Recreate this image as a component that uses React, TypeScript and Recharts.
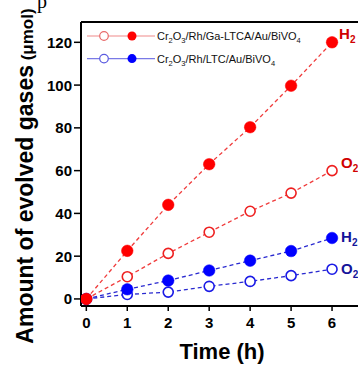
import React from "react";
import { LineChart, Line, XAxis, YAxis, ReferenceLine } from "recharts";

const times = [0, 1, 2, 3, 4, 5, 6];
const h2Ga = [0, 22.5, 44, 63, 80.3, 99.7, 120];
const o2Ga = [0, 10.4, 21.3, 31.2, 41, 49.5, 60];
const h2Ltc = [0, 4.5, 8.6, 13.3, 17.9, 22.4, 28.5];
const o2Ltc = [0, 2.1, 3.2, 5.9, 8.2, 10.9, 13.9];
const xTicks = [0, 1, 2, 3, 4, 5, 6];
const yTicks = [0, 10, 20, 30, 40, 50, 60, 70, 80, 90, 100, 110, 120];
const legendNames = ["Ga", "LTC"];

const data = times.map((t, i) => ({
  t,
  h2Ga: h2Ga[i],
  o2Ga: o2Ga[i],
  h2Ltc: h2Ltc[i],
  o2Ltc: o2Ltc[i],
}));

const FONT = "'Liberation Sans', Arial, sans-serif";

const YTick = (props: any) => {
  const { x, y, payload } = props;
  const major = payload.value % 20 === 0;
  return (
    <g>
      <line x1={x} x2={x - (major ? 7 : 4)} y1={y} y2={y} stroke="#000" strokeWidth={1.5} />
      {major && (
        <text x={x - 9} y={y + 5.5} textAnchor="end" fontFamily={FONT} fontWeight="bold" fontSize={15} fill="#000">
          {payload.value}
        </text>
      )}
    </g>
  );
};

const XTick = (props: any) => {
  const { x, y, payload } = props;
  return (
    <g>
      <line x1={x} x2={x} y1={y} y2={y + 5} stroke="#000" strokeWidth={1.5} />
      <text x={x} y={y + 22} textAnchor="middle" fontFamily={FONT} fontWeight="bold" fontSize={15} fill="#000">
        {payload.value}
      </text>
    </g>
  );
};

const makeLabel = (gas: string, color: string, dx: number, dy: number) => (p: any) => {
  if (p.index !== 6) return <g key={`l${p.index}`} />;
  return (
    <text key="end" x={p.x + dx} y={p.y + dy} fontFamily={FONT} fontWeight="bold" fontSize={15} fill={color}>
      {gas}
      <tspan fontSize={10} dy={4}>2</tspan>
    </text>
  );
};

const filledDot = (color: string) => (p: any) => (
  <circle key={`f${p.index}`} cx={p.cx} cy={p.cy} r={5.8} fill={color} stroke={color} strokeWidth={0.5} />
);
const openDot = (color: string) => (p: any) => (
  <circle key={`o${p.index}`} cx={p.cx} cy={p.cy} r={5} fill="#fff" stroke={color} strokeWidth={1.6} />
);

const Formula = ({ name }: { name: string }) => (
  <>
    Cr<tspan fontSize={7.5} dy={3}>2</tspan>
    <tspan dy={-3}>O</tspan>
    <tspan fontSize={7.5} dy={3}>3</tspan>
    <tspan dy={-3}>{name === "Ga" ? "/Rh/Ga-LTCA/Au/BiVO" : "/Rh/LTC/Au/BiVO"}</tspan>
    <tspan fontSize={7.5} dy={3}>4</tspan>
  </>
);

const LegendBox = () => {
  const rows = [
    { name: legendNames[0], line: "#f08a8a", open: "#e86a6a", fill: "#ff0000" },
    { name: legendNames[1], line: "#7a7ae6", open: "#5a5ae0", fill: "#0000ff" },
  ];
  return (
    <svg style={{ position: "absolute", left: 84, top: 28 }} width={240} height={46}>
      {rows.map((r, i) => {
        const cy = 8 + i * 22.6;
        return (
          <g key={r.name}>
            <line x1={3} x2={71} y1={cy} y2={cy} stroke={r.line} strokeWidth={1.2} />
            <circle cx={20} cy={cy} r={4.3} fill="#fff" stroke={r.open} strokeWidth={1.2} />
            <circle cx={48} cy={cy} r={4.5} fill={r.fill} />
            <text x={73} y={cy + 4} fontFamily={FONT} fontSize={11} fill="#111">
              <Formula name={r.name} />
            </text>
          </g>
        );
      })}
    </svg>
  );
};

export default function App() {
  return (
    <div style={{ position: "absolute", left: 0, top: 0, width: 358, height: 365, overflow: "hidden", background: "#fff" }}>
      <div style={{ position: "absolute", left: 0, top: 0 }}>
        <LineChart width={373} height={365} data={data} margin={{ top: 22, right: 0, bottom: 0, left: 0 }}>
          <XAxis
            dataKey="t"
            type="number"
            domain={[-0.13, 7]}
            allowDataOverflow
            ticks={xTicks}
            tickLine={false}
            tickSize={0}
            tickMargin={0}
            tick={<XTick />}
            height={59}
            axisLine={{ stroke: "#000", strokeWidth: 2 }}
          />
          <YAxis
            type="number"
            domain={[-3.3, 129.5]}
            allowDataOverflow
            ticks={yTicks}
            tickLine={false}
            tickSize={0}
            tickMargin={0}
            tick={<YTick />}
            width={81}
            axisLine={{ stroke: "#000", strokeWidth: 2 }}
          />
          <ReferenceLine y={129.5} stroke="#000" strokeWidth={2} />
          <Line dataKey="o2Ltc" isAnimationActive={false} stroke="#2a2ad0" strokeWidth={1.3} strokeDasharray="4 3"
            dot={openDot("#1a1ae6")} activeDot={false} label={makeLabel("O", "#14149a", 9, 4.5)} />
          <Line dataKey="h2Ltc" isAnimationActive={false} stroke="#2a2ad0" strokeWidth={1.3} strokeDasharray="4 3"
            dot={filledDot("#0000ff")} activeDot={false} label={makeLabel("H", "#14149a", 9, 4.5)} />
          <Line dataKey="o2Ga" isAnimationActive={false} stroke="#f03c3c" strokeWidth={1.3} strokeDasharray="4 3"
            dot={openDot("#ee2020")} activeDot={false} label={makeLabel("O", "#d00000", 9, -2.5)} />
          <Line dataKey="h2Ga" isAnimationActive={false} stroke="#f03c3c" strokeWidth={1.3} strokeDasharray="4 3"
            dot={filledDot("#ff0000")} activeDot={false} label={makeLabel("H", "#d00000", 7, -3.5)} />
        </LineChart>
      </div>
      <LegendBox />
      <svg style={{ position: "absolute", left: 0, top: 0, pointerEvents: "none" }} width={358} height={365}>
        <text x={37} y={8} fontFamily="'Liberation Serif', serif" fontSize={20} fill="#000">p</text>
        <text transform="translate(33,176) rotate(-90)" textAnchor="middle" fontFamily={FONT} fontWeight="bold" fontSize={23} fill="#000">
          Amount of evolved gases
          <tspan fontSize={17}> (μmol)</tspan>
        </text>
        <text x={222} y={359} textAnchor="middle" fontFamily={FONT} fontWeight="bold" fontSize={22} fill="#000">
          Time (h)
        </text>
      </svg>
    </div>
  );
}
